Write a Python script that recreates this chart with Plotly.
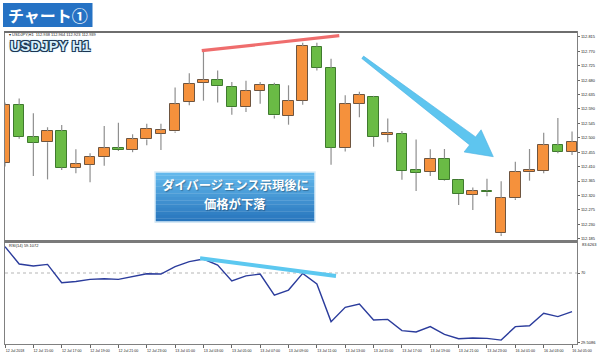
import plotly.graph_objects as go

# ---------------- data (USDJPY H1, one candle per hour) ----------------
opens = [112.422, 112.603, 112.502, 112.486, 112.521, 112.407, 112.416, 112.439, 112.467, 112.462,
         112.495, 112.513, 112.520, 112.612, 112.672, 112.681, 112.660, 112.595, 112.646, 112.664,
         112.568, 112.616, 112.785, 112.718, 112.467, 112.606, 112.628, 112.509, 112.512, 112.398,
         112.393, 112.435, 112.367, 112.322, 112.334, 112.202, 112.311, 112.392, 112.396, 112.477,
         112.457]
highs = [112.610, 112.623, 112.577, 112.533, 112.540, 112.464, 112.452, 112.537, 112.547, 112.511,
         112.544, 112.544, 112.657, 112.702, 112.774, 112.710, 112.674, 112.678, 112.674, 112.672,
         112.664, 112.797, 112.797, 112.747, 112.633, 112.644, 112.631, 112.560, 112.521, 112.495,
         112.464, 112.465, 112.369, 112.345, 112.372, 112.364, 112.425, 112.465, 112.516, 112.562,
         112.520]
lows = [112.410, 112.497, 112.381, 112.370, 112.399, 112.389, 112.361, 112.413, 112.459, 112.455,
        112.477, 112.462, 112.516, 112.602, 112.616, 112.610, 112.572, 112.581, 112.606, 112.560,
        112.541, 112.603, 112.710, 112.416, 112.457, 112.564, 112.472, 112.486, 112.369, 112.334,
        112.381, 112.365, 112.290, 112.274, 112.317, 112.193, 112.306, 112.366, 112.389, 112.452,
        112.446]
closes = [112.603, 112.503, 112.485, 112.521, 112.407, 112.417, 112.439, 112.467, 112.462, 112.495,
          112.528, 112.523, 112.605, 112.669, 112.681, 112.661, 112.595, 112.647, 112.666, 112.570,
          112.615, 112.786, 112.719, 112.469, 112.605, 112.633, 112.503, 112.514, 112.396, 112.391,
          112.435, 112.367, 112.324, 112.333, 112.330, 112.312, 112.393, 112.399, 112.477, 112.457,
          112.487]
rsi = [85.3, 75.2, 74.1, 75.0, 64.4, 65.1, 66.3, 66.7, 66.3, 67.9,
       69.6, 69.4, 73.7, 76.6, 78.1, 74.6, 65.4, 68.3, 69.4, 57.2,
       60.1, 69.8, 63.6, 41.8, 50.1, 52.0, 42.7, 43.1, 36.6, 35.8,
       38.9, 34.4, 31.9, 32.3, 32.1, 31.1, 38.9, 39.4, 46.6, 44.7,
       47.6]
time_labels = ["12 Jul 2018", "12 Jul 15:00", "12 Jul 17:00", "12 Jul 19:00", "12 Jul 21:00",
               "12 Jul 23:00", "13 Jul 01:00", "13 Jul 03:00", "13 Jul 05:00", "13 Jul 07:00",
               "13 Jul 09:00", "13 Jul 11:00", "13 Jul 13:00", "13 Jul 15:00", "13 Jul 17:00",
               "13 Jul 19:00", "13 Jul 21:00", "13 Jul 23:00", "16 Jul 01:00", "16 Jul 03:00",
               "16 Jul 05:00"]
price_ticks = [112.185, 112.230, 112.275, 112.320, 112.365, 112.410, 112.455, 112.500,
               112.545, 112.590, 112.635, 112.680, 112.725, 112.770, 112.815]
price_labels = ["112.185", "112.230", "112.275", "112.320", "112.365", "112.410", "112.455",
                "112.500", "112.545", "112.590", "112.635", "112.680", "112.725", "112.770",
                "112.815"]
rsi_ticks = [29.5086, 70]
rsi_labels = ["29.5086", "70"]
rsi_max_label = "83.6263"

bar_index = list(range(len(opens)))
label_index = bar_index[::2]

# ---------------- styling ----------------
UP_FILL, UP_LINE = "#f5913c", "#6e5540"
DN_FILL, DN_LINE = "#6abb45", "#3f7a2e"
WICK = "#8f8f8f"
FRAME = "#808080"
TXT = "#222222"
SMALL = dict(family="Liberation Sans", size=4, color=TXT)


def px(x):
    return x / 600.0


def py(y):
    return 1 - y / 358.0


fig = go.Figure()

# wicks (split so they do not cross the bodies)
wx, wy = [], []
for i, o, h, l, c in zip(bar_index, opens, highs, lows, closes):
    lo_b, hi_b = min(o, c), max(o, c)
    wx += [i, i, None, i, i, None]
    wy += [l, lo_b, None, hi_b, h, None]
fig.add_trace(go.Scatter(x=wx, y=wy, mode="lines", line=dict(color=WICK, width=1.2),
                         hoverinfo="skip", xaxis="x", yaxis="y"))

up = [i for i in bar_index if closes[i] >= opens[i]]
dn = [i for i in bar_index if closes[i] < opens[i]]
fig.add_trace(go.Bar(x=up, base=[opens[i] for i in up], y=[closes[i] - opens[i] for i in up],
                     width=0.75, marker=dict(color=UP_FILL, line=dict(color=UP_LINE, width=1)),
                     xaxis="x", yaxis="y"))
fig.add_trace(go.Bar(x=dn, base=[closes[i] for i in dn], y=[opens[i] - closes[i] for i in dn],
                     width=0.75, marker=dict(color=DN_FILL, line=dict(color=DN_LINE, width=1)),
                     xaxis="x", yaxis="y"))

# RSI line
fig.add_trace(go.Scatter(x=bar_index, y=rsi, mode="lines", line=dict(color="#2b3c9c", width=1.4),
                         xaxis="x2", yaxis="y2"))

xdom = [px(5), px(577)]
xr = [0, 40.35]
common_ax = dict(showgrid=False, zeroline=False, showline=True, mirror=True,
                 linecolor=FRAME, linewidth=1.2, automargin=False, fixedrange=True)

fig.update_layout(
    width=600, height=358, margin=dict(l=0, r=0, t=0, b=0),
    paper_bgcolor="white", plot_bgcolor="white", showlegend=False,
    barmode="overlay", bargap=0,
    xaxis=dict(domain=xdom, range=xr, anchor="y", showticklabels=False, ticks="", **common_ax),
    yaxis=dict(domain=[py(241), py(32)], range=[112.1775, 112.8306], anchor="x", side="right",
               tickvals=price_ticks, ticktext=price_labels, ticks="outside", ticklen=2,
               tickcolor="#666", tickfont=SMALL, **common_ax),
    xaxis2=dict(domain=xdom, range=xr, anchor="y2", tickvals=label_index, ticktext=time_labels,
                ticks="outside", ticklen=3, tickcolor="#666", ticklabelshift=10,
                tickfont=dict(family="Liberation Sans", size=3.6, color=TXT), **common_ax),
    yaxis2=dict(domain=[py(344), py(242)], range=[28.82, 87.98], anchor="x2", side="right",
                tickvals=rsi_ticks, ticktext=rsi_labels, ticks="outside", ticklen=2,
                tickcolor="#666", tickfont=SMALL, **common_ax),
)

# frame separators
fig.add_shape(type="line", xref="paper", yref="paper", x0=px(4), x1=px(577), y0=py(32), y1=py(32),
              line=dict(color="#6e6e6e", width=2))
fig.add_shape(type="line", xref="paper", yref="paper", x0=px(4), x1=px(577), y0=py(241.5), y1=py(241.5),
              line=dict(color="#7a7a7a", width=3))
# RSI 70 level
fig.add_shape(type="line", xref="x2 domain", yref="y2", x0=0, x1=1, y0=70, y1=70,
              line=dict(color="#b5b5b5", width=1, dash="dot"), layer="below")

# divergence trend lines
fig.add_shape(type="line", xref="x", yref="y", x0=13.88, y0=112.7722, x1=23.58, y1=112.8191,
              line=dict(color="#ef6d6d", width=3.2))
fig.add_shape(type="line", xref="x2", yref="y2", x0=13.76, y0=78.5, x1=23.35, y1=68.3,
              line=dict(color="#5cc8f0", width=4))

# big blue arrow
arrow_pts = [(361.8, 58.5), (469.6, 144.9), (464.1, 152.0), (493.3, 156.7),
             (481.1, 129.8), (475.6, 136.9), (363.6, 56.1)]
path = "M " + " L ".join(f"{px(x):.5f},{py(y):.5f}" for x, y in arrow_pts) + " Z"
fig.add_shape(type="path", xref="paper", yref="paper", path=path,
              fillcolor="#5ec5ef", line=dict(color="#4db2e2", width=0.6))

# callout box with vertical gradient
bx0, bx1, by0, by1 = 155, 315, 172, 222
n = 14
top_rgb, bot_rgb = (99, 184, 236), (40, 118, 189)
for k in range(n):
    t = k / (n - 1)
    col = tuple(round(a + (b - a) * t) for a, b in zip(top_rgb, bot_rgb))
    ya = by0 + (by1 - by0) * k / n
    yb = by0 + (by1 - by0) * (k + 1) / n
    fig.add_shape(type="rect", xref="paper", yref="paper", x0=px(bx0), x1=px(bx1),
                  y0=py(ya), y1=py(yb + 0.3), fillcolor="rgb(%d,%d,%d)" % col, line=dict(width=0))
fig.add_shape(type="rect", xref="paper", yref="paper", x0=px(bx0), x1=px(bx1), y0=py(by0), y1=py(by1),
              line=dict(color="#d9ecf8", width=1.5))

# title banner
fig.add_shape(type="rect", xref="paper", yref="paper", x0=px(3), x1=px(92.5), y0=py(3), y1=py(27),
              fillcolor="#2572c4", line=dict(width=0))

ann = []
ann.append(dict(x=px(47.8), y=py(15), text="チャート①",
                font=dict(family="Noto Sans CJK JP", size=16, color="white", weight=700)))
ann.append(dict(x=px(49.5), y=py(46), text="USDJPY H1",
                font=dict(family="Liberation Sans", size=14.5, color="#d6eefa", weight=700,
                          shadow="-1px -1px 0 #1b3552, 1px -1px 0 #1b3552, -1px 1px 0 #1b3552, "
                                 "1px 1px 0 #1b3552, 0 0 3px #4fc3f7")))
ann.append(dict(x=px(7), y=py(34.6), xanchor="left", text="▾ USDJPY,H1  112.938 112.964 112.923 112.939",
                font=dict(family="Liberation Sans", size=4, color=TXT)))
ann.append(dict(x=px(6.5), y=py(245.5), xanchor="left", text="RSI(14) 59.1072",
                font=dict(family="Liberation Sans", size=4, color=TXT)))
ann.append(dict(x=px(580), y=py(244.5), xanchor="left", text=rsi_max_label, font=SMALL))
ann.append(dict(x=px(235), y=py(185), text="ダイバージェンス示現後に",
                font=dict(family="Noto Sans CJK JP", size=12.3, color="white", weight=700,
                          shadow="1px 1px 1px rgba(0,0,0,0.3)")))
ann.append(dict(x=px(235), y=py(204), text="価格が下落",
                font=dict(family="Noto Sans CJK JP", size=12.3, color="white", weight=700,
                          shadow="1px 1px 1px rgba(0,0,0,0.3)")))
for a in ann:
    a.setdefault("xanchor", "center")
    a.update(xref="paper", yref="paper", yanchor="middle", showarrow=False)
    fig.add_annotation(**a)

fig.write_html("out.html")
